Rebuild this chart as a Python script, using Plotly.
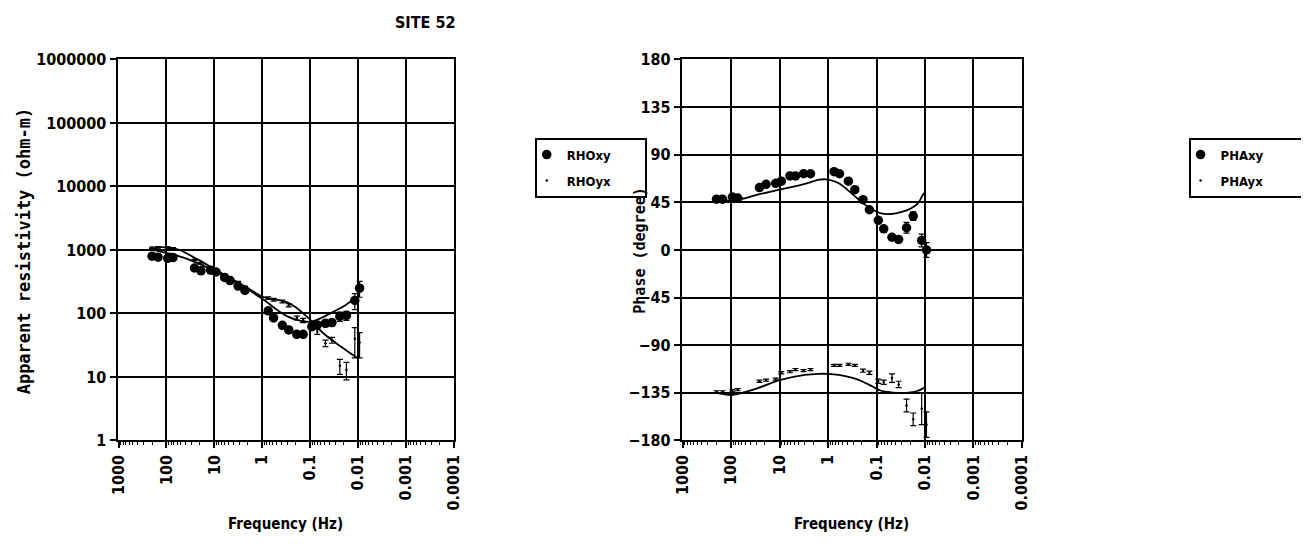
import plotly.graph_objects as go

# ---------------- data ----------------
freq = [200, 150, 94, 73, 26, 19, 12, 9.2, 6.1, 4.7, 3.2, 2.3, 0.75, 0.58,
        0.38, 0.28, 0.19, 0.14, 0.092, 0.071, 0.048, 0.035, 0.024, 0.0175, 0.0117, 0.0093]

rho_xy = [800, 770, 740, 760, 520, 470, 480, 450, 370, 330, 270, 230, 110, 85,
          65, 55, 47, 47, 62, 66, 70, 72, 90, 93, 160, 250]
rho_xy_err = [40, 40, 35, 35, 25, 25, 25, 20, 20, 15, 15, 12, 6, 5,
              4, 4, 3, 3, 5, 5, 8, 8, 15, 15, 45, 70]

rho_yx = [1080, 1100, 1090, 1060, 700, 620, 520, 470, 400, 360, 310, 260, 175, 165,
          155, 135, 85, 78, 60, 52, 34, 38, 15, 13, 40, 35]
rho_yx_err = [30, 30, 30, 30, 20, 20, 15, 15, 12, 12, 10, 10, 8, 8,
              8, 8, 6, 6, 5, 5, 4, 4, 4, 4, 20, 15]

pha_xy = [48, 48, 50, 49, 59, 62, 63, 65, 70, 70, 72, 72, 74, 72,
          65, 57, 47.5, 38, 28, 20, 12, 10, 21, 32, 9, 0]
pha_xy_err = [1.5, 1.5, 1.5, 1.5, 1.5, 1.5, 1.5, 1.5, 1.5, 1.5, 1.5, 1.5, 1.5, 1.5,
              1.5, 1.5, 1.5, 1.5, 2, 2, 2, 2, 5, 4, 6, 7]

pha_yx = [-134, -134, -133, -132, -124, -123, -122, -116, -115, -113, -114, -113, -109, -109,
          -108, -109, -114, -116, -124, -125, -121, -127, -147, -160, -150, -165]
pha_yx_err = [1, 1, 1, 1, 1, 1, 1, 1, 1, 1, 1, 1, 1, 1,
              1, 1, 1.5, 1.5, 2, 2, 4, 3, 6, 6, 15, 12]

model_f = [200, 150, 100, 70, 50, 30, 20, 10, 5, 3, 2, 1, 0.7, 0.5,
           0.3, 0.2, 0.15, 0.1, 0.07, 0.05, 0.03, 0.02, 0.015, 0.0105]
rho_xy_model = [1000, 960, 900, 850, 780, 680, 600, 470, 360, 290, 240, 170, 140, 115,
                90, 80, 76, 74, 80, 90, 110, 130, 150, 175]
rho_yx_model = [1020, 1100, 1100, 1060, 980, 800, 680, 500, 370, 300, 250, 185, 170, 165,
                150, 125, 105, 80, 60, 47, 35, 28, 24, 20]

pmodel_f = [200, 150, 100, 50, 30, 10, 3, 1.5, 1, 0.6, 0.3, 0.2, 0.12, 0.08,
            0.05, 0.03, 0.02, 0.014, 0.0117, 0.0105]
pha_xy_model = [46, 46, 47, 49, 52, 57, 62.5, 66.5, 66.5, 63, 52, 45, 38, 34.5,
                34, 36, 39, 44, 50, 54]
pha_yx_model = [-135, -136, -137, -134, -131, -123, -118, -117, -117, -118, -121, -124, -129, -133,
                -134.5, -135, -134.5, -133, -131.5, -130]

x_tickvals = [1000, 100, 10, 1, 0.1, 0.01, 0.001, 0.0001]
x_ticktext = ["1000", "100", "10", "1", "0.1", "0.01", "0.001", "0.0001"]
rho_tickvals = [1, 10, 100, 1000, 10000, 100000, 1000000]
rho_ticktext = ["1", "10", "100", "1000", "10000", "100000", "1000000"]
pha_tickvals = [-180, -135, -90, -45, 0, 45, 90, 135, 180]

# ---------------- figure ----------------
# page body has an 8px default margin, so the figure is 8px smaller than the window
W, H = 1301, 538
FONT = "DejaVu Sans Condensed, DejaVu Sans, sans-serif"
MONO = "DejaVu Sans Mono, monospace"
PAD1 = "\u00a0" * 7   # widen legend boxes (non-breaking spaces)
PAD2 = "\u00a0" * 8

fig = go.Figure()

def err(arr):
    return dict(type="data", array=arr, visible=True, color="black", thickness=1.2, width=3)

LINE = dict(color="black", width=1.8, shape="spline")

# left: apparent resistivity
fig.add_trace(go.Scatter(x=model_f, y=rho_xy_model, mode="lines", line=LINE,
                         showlegend=False, xaxis="x", yaxis="y"))
fig.add_trace(go.Scatter(x=model_f, y=rho_yx_model, mode="lines", line=LINE,
                         showlegend=False, xaxis="x", yaxis="y"))
fig.add_trace(go.Scatter(x=freq, y=rho_xy, mode="markers", name="RHOxy" + PAD1, legendgroup="a",
                         marker=dict(symbol="circle", size=9.5, color="black"),
                         error_y=err(rho_xy_err), xaxis="x", yaxis="y", legend="legend"))
fig.add_trace(go.Scatter(x=freq, y=rho_yx, mode="markers", name="RHOyx" + PAD1, legendgroup="b",
                         marker=dict(symbol="circle", size=2.5, color="black"),
                         error_y=err(rho_yx_err), xaxis="x", yaxis="y", legend="legend"))

# right: phase
fig.add_trace(go.Scatter(x=pmodel_f, y=pha_xy_model, mode="lines", line=LINE,
                         showlegend=False, xaxis="x2", yaxis="y2"))
fig.add_trace(go.Scatter(x=pmodel_f, y=pha_yx_model, mode="lines", line=LINE,
                         showlegend=False, xaxis="x2", yaxis="y2"))
fig.add_trace(go.Scatter(x=freq, y=pha_xy, mode="markers", name="PHAxy" + PAD2, legendgroup="c",
                         marker=dict(symbol="circle", size=9.5, color="black"),
                         error_y=err(pha_xy_err), xaxis="x2", yaxis="y2", legend="legend2"))
fig.add_trace(go.Scatter(x=freq, y=pha_yx, mode="markers", name="PHAyx" + PAD2, legendgroup="d",
                         marker=dict(symbol="circle", size=2.5, color="black"),
                         error_y=err(pha_yx_err), xaxis="x2", yaxis="y2", legend="legend2"))

# geometry (figure pixels)
L1, R1 = 102, 443
L2, R2 = 674, 1019
TOP, BOT = 44, 439
yd = [(H - BOT) / H, (H - TOP) / H]

minor_vals = []
for e in range(-4, 3):
    for m in range(2, 10):
        minor_vals.append(m * 10 ** e)

TICKFONT = dict(size=16, color="black", family=FONT, weight="bold")
common_ax = dict(showline=True, linecolor="black", linewidth=2, mirror=True,
                 showgrid=True, gridcolor="black", gridwidth=2,
                 ticks="outside", ticklen=6, tickcolor="black", tickwidth=1.5,
                 zeroline=False, tickfont=TICKFONT)

xcommon = dict(common_ax, type="log", range=[3.02, -4.0], tickvals=x_tickvals, ticktext=x_ticktext,
               tickangle=-90,
               minor=dict(tickvals=minor_vals, ticks="outside", ticklen=3, tickcolor="black", tickwidth=1, showgrid=False))

LEGFONT = dict(size=13, family=FONT, weight="bold")

fig.update_layout(
    width=W, height=H,
    margin=dict(l=0, r=0, t=0, b=0),
    paper_bgcolor="white", plot_bgcolor="white",
    font=dict(family=FONT, size=14, color="black", weight="bold"),
    xaxis=dict(xcommon, domain=[L1 / W, R1 / W], anchor="y"),
    yaxis=dict(common_ax, type="log", range=[0, 6], tickvals=rho_tickvals, ticktext=rho_ticktext,
               domain=yd, anchor="x"),
    xaxis2=dict(xcommon, domain=[L2 / W, R2 / W], anchor="y2"),
    yaxis2=dict(common_ax, range=[-180, 180], tickvals=pha_tickvals, domain=yd, anchor="x2"),
    legend=dict(x=525 / W, y=(H - 125) / H, xanchor="left", yanchor="top",
                bordercolor="black", borderwidth=2, bgcolor="white", tracegroupgap=6,
                itemwidth=30, indentation=-10, font=LEGFONT),
    legend2=dict(x=1188 / W, y=(H - 125) / H, xanchor="left", yanchor="top",
                 bordercolor="black", borderwidth=2, bgcolor="white", tracegroupgap=6,
                 itemwidth=30, indentation=-10, font=LEGFONT),
    annotations=[
        dict(text="SITE 52", x=414 / W, y=(H - 6) / H, xref="paper", yref="paper",
             xanchor="center", yanchor="middle",
             showarrow=False, font=dict(size=16, family=FONT, weight="bold")),
        dict(text="Apparent resistivity (ohm-m)", x=8 / W, y=(H - 242) / H, xref="paper", yref="paper",
             xanchor="center", yanchor="middle",
             textangle=-90, showarrow=False, font=dict(size=17, family=MONO, weight="bold")),
        dict(text="Frequency (Hz)", x=(L1 + R1) / 2 / W, y=(H - 526) / H, xref="paper", yref="paper",
             xanchor="center", yanchor="middle",
             showarrow=False, font=dict(size=15, family=FONT, weight="bold")),
        dict(text="Phase (degree)", x=632 / W, y=(H - 242) / H, xref="paper", yref="paper",
             xanchor="center", yanchor="middle",
             textangle=-90, showarrow=False, font=dict(size=15, family=MONO, weight="bold")),
        dict(text="Frequency (Hz)", x=(L2 + R2) / 2 / W, y=(H - 526) / H, xref="paper", yref="paper",
             xanchor="center", yanchor="middle",
             showarrow=False, font=dict(size=15, family=FONT, weight="bold")),
    ],
)

fig.write_html("out.html")
